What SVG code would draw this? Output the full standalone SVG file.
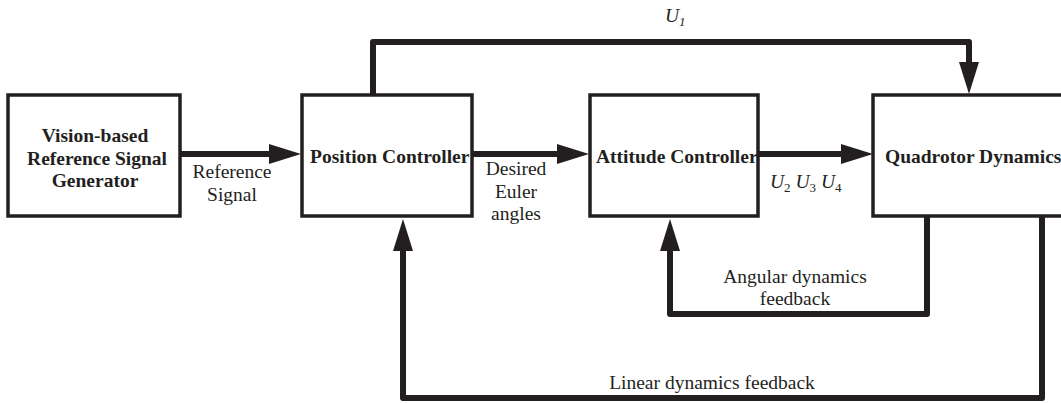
<svg xmlns="http://www.w3.org/2000/svg" width="1061" height="403" viewBox="0 0 1061 403">
<style>
.box{fill:#fff;stroke:#231f20;stroke-width:3.5}
.t{font-family:"Liberation Serif","Times New Roman",serif;font-size:19.5px;fill:#231f20}
.b{font-weight:bold}
.c{text-anchor:middle}
.i{font-style:italic}
.w{fill:none;stroke:#231f20;stroke-width:6;stroke-linejoin:round}
</style>
<defs>
<marker id="ah" markerUnits="userSpaceOnUse" markerWidth="32" markerHeight="20" refX="1" refY="10" orient="auto" overflow="visible">
<path d="M0,0 L32,10 L0,20 Z" fill="#231f20"/>
</marker>
</defs>
<rect width="1061" height="403" fill="#fff"/>
<g id="connectors">
<path class="w" d="M180,154 H270" marker-end="url(#ah)"/>
<path class="w" d="M472,154 H558" marker-end="url(#ah)"/>
<path class="w" d="M758,154 H842" marker-end="url(#ah)"/>
<path class="w" d="M373,95 V42 H969 V63" marker-end="url(#ah)"/>
<path class="w" d="M927,216 V314 H670 V250" marker-end="url(#ah)"/>
<path class="w" d="M1042,216 V398 H403 V250" marker-end="url(#ah)"/>
</g>
<g id="generator">
<rect class="box" x="8" y="95" width="172" height="121"/>
<text class="t b c" x="95" y="142">Vision-based</text>
<text class="t b c" x="97" y="165">Reference Signal</text>
<text class="t b c" x="95" y="187">Generator</text>
</g>
<g id="position">
<rect class="box" x="302" y="95" width="170" height="121"/>
<text class="t b" x="310" y="163">Position Controller</text>
</g>
<g id="attitude">
<rect class="box" x="590" y="95" width="168" height="121"/>
<text class="t b" x="596" y="163">Attitude Controller</text>
</g>
<g id="quadrotor">
<rect class="box" x="873" y="95" width="192" height="121"/>
<text class="t b" x="885" y="163">Quadrotor Dynamics</text>
</g>
<g id="labels">
<text class="t c" x="232" y="178">Reference</text>
<text class="t c" x="232" y="201">Signal</text>
<text class="t c" x="516" y="175">Desired</text>
<text class="t c" x="516" y="197.5">Euler</text>
<text class="t c" x="516" y="220">angles</text>
<text class="t" x="665" y="22"><tspan class="i">U</tspan><tspan class="i" font-size="13" dy="4">1</tspan></text>
<text class="t" x="770" y="188"><tspan class="i">U</tspan><tspan font-size="13" dy="4">2</tspan><tspan dy="-4"> </tspan><tspan class="i">U</tspan><tspan font-size="13" dy="4">3</tspan><tspan dy="-4"> </tspan><tspan class="i">U</tspan><tspan font-size="13" dy="4">4</tspan></text>
<text class="t c" x="795" y="283">Angular dynamics</text>
<text class="t c" x="795" y="305">feedback</text>
<text class="t c" x="712" y="389">Linear dynamics feedback</text>
</g>
</svg>
